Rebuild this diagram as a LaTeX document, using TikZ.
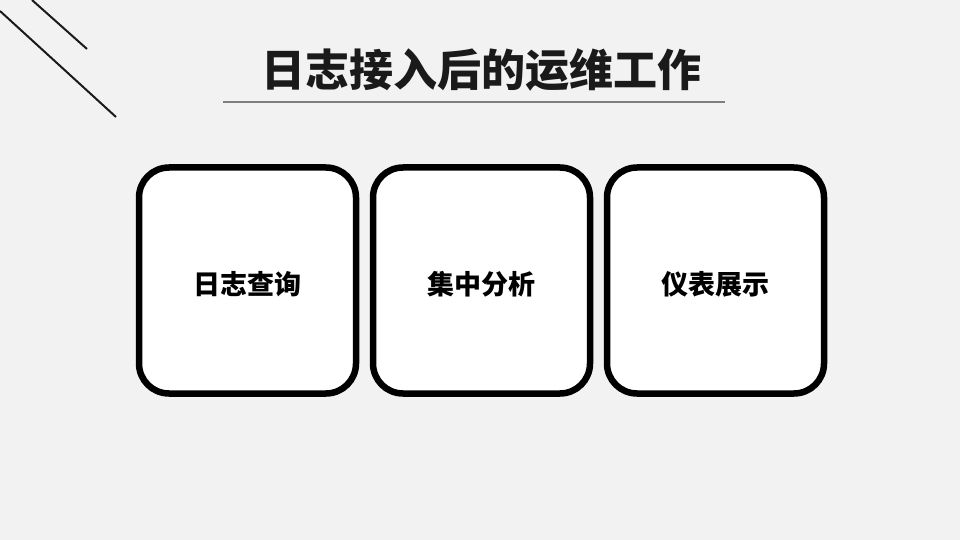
\documentclass[tikz,border=0pt]{standalone}
\usepackage{fontspec}
\newfontfamily\cjk{Noto Sans CJK SC}[BoldFont={Noto Sans CJK SC Bold}]
\newfontfamily\cjkblack{Noto Sans CJK SC Black}
\definecolor{bg}{HTML}{F2F2F2}
\definecolor{ink}{HTML}{1A1A1A}
\definecolor{rule}{HTML}{7F7F7F}
\newcommand{\cardtext}[1]{\raisebox{-3.5pt}[\height][\depth]{#1}}
\begin{document}
\begin{tikzpicture}[x=1pt,y=-1pt,
  card/.style={draw=black,line width=6.5pt,fill=white,rounded corners=30pt,minimum width=217pt,minimum height=226pt,inner sep=0pt,
    font=\cjkblack\fontsize{27}{30}\selectfont,text=black},
  deco/.style={draw=ink,line width=2pt}]
\fill[bg] (0,0) rectangle (960,540);
\useasboundingbox (0,0) rectangle (960,540);
\coordinate (a1) at (32,0); \coordinate (a2) at (87,49);
\coordinate (b1) at (0,11); \coordinate (b2) at (116,117);
\draw[deco] (a1) -- (a2);
\draw[deco] (b1) -- (b2);
\node[font=\cjkblack\fontsize{44}{48}\selectfont,text=ink,inner sep=0pt] (title) at (481,70) {日志接入后的运维工作};
\coordinate (r1) at (223,102); \coordinate (r2) at (725,102);
\draw[rule,line width=2pt] (r1) -- (r2);
\node[card] (c1) at (247.5,280.5) {\cardtext{日志查询}};
\node[card] (c2) at (481.5,280.5) {\cardtext{集中分析}};
\node[card] (c3) at (715.5,280.5) {\cardtext{仪表展示}};
\end{tikzpicture}
\end{document}
